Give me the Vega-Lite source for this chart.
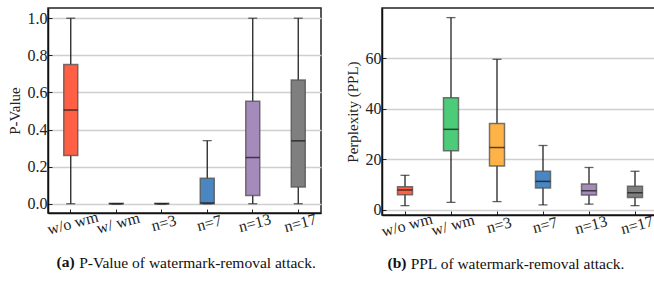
{
  "$schema": "https://vega.github.io/schema/vega-lite/v6.json",
  "padding": {"left": 6, "top": 7, "right": 0, "bottom": 0},
  "background": "white",
  "spacing": 22,
  "config": {
    "font": "Liberation Serif",
    "view": {"stroke": "#222", "strokeWidth": 1.5},
    "axis": {
      "labelFont": "Liberation Serif",
      "titleFont": "Liberation Serif",
      "labelFontSize": 16,
      "titleFontSize": 15,
      "titleFontWeight": "normal",
      "labelColor": "#222",
      "titleColor": "#222",
      "domainColor": "#111",
      "domainWidth": 1.5,
      "tickColor": "#222",
      "tickSize": -4,
      "tickWidth": 1,
      "labelPadding": 5
    },
    "title": {"font": "Liberation Serif", "fontSize": 15.5, "fontWeight": "bold", "color": "#111", "orient": "bottom", "baseline": "top", "offset": -16}
  },
  "hconcat": [
    {
      "width": 273,
      "height": 205,
      "title": {"text": "(a)", "dx": -119},
      "data": {"values": [
        {"cat": "w/o wm", "lo": 0.0, "q1": 0.26, "med": 0.505, "q3": 0.75, "hi": 1.0},
        {"cat": "w/ wm", "lo": 0.0, "q1": 0.0, "med": 0.0, "q3": 0.002, "hi": 0.0},
        {"cat": "n=3", "lo": 0.0, "q1": 0.0, "med": 0.0, "q3": 0.002, "hi": 0.0},
        {"cat": "n=7", "lo": 0.0, "q1": 0.0, "med": 0.004, "q3": 0.137, "hi": 0.34},
        {"cat": "n=13", "lo": 0.0, "q1": 0.045, "med": 0.249, "q3": 0.553, "hi": 1.0},
        {"cat": "n=17", "lo": 0.0, "q1": 0.09, "med": 0.339, "q3": 0.667, "hi": 1.0}
      ]},
      "encoding": {
        "x": {"field": "cat", "type": "nominal", "sort": null,
          "scale": {"paddingInner": 0, "paddingOuter": 0},
          "axis": {"title": "P-Value of watermark-removal attack.", "titleFontSize": 15.5, "titleColor": "#111", "titlePadding": 18, "titleX": 149, "labelAngle": -15, "labelAlign": "center", "labelBaseline": "top", "labelPadding": 6}}
      },
      "layer": [
        {"mark": {"type": "rule", "color": "#222", "strokeWidth": 1.3},
         "encoding": {"y": {"field": "lo", "type": "quantitative",
            "scale": {"domain": [-0.05, 1.055], "nice": false, "zero": false},
            "axis": {"title": "P-Value", "values": [0, 0.2, 0.4, 0.6, 0.8, 1.0], "format": ".1f", "grid": true, "gridColor": "#cfcfcf", "gridWidth": 1.5, "titlePadding": 5}},
          "y2": {"field": "hi"}}},
        {"mark": {"type": "tick", "color": "#222", "size": 9, "thickness": 1.3},
         "encoding": {"y": {"field": "lo", "type": "quantitative"}}},
        {"mark": {"type": "tick", "color": "#222", "size": 9, "thickness": 1.3},
         "encoding": {"y": {"field": "hi", "type": "quantitative"}}},
        {"mark": {"type": "bar", "size": 14, "stroke": "#555", "strokeWidth": 1.5, "strokeOpacity": 0.8},
         "encoding": {"y": {"field": "q1", "type": "quantitative"}, "y2": {"field": "q3"},
           "color": {"field": "cat", "type": "nominal", "legend": null,
             "scale": {"domain": ["w/o wm", "w/ wm", "n=3", "n=7", "n=13", "n=17"],
               "range": ["#ff5f45", "#4ccc78", "#ffb347", "#4a86c2", "#a58abc", "#7f7f7f"]}}}},
        {"mark": {"type": "tick", "color": "#111", "size": 14, "thickness": 1.5},
         "encoding": {"y": {"field": "med", "type": "quantitative"}}}
      ]
    },
    {
      "width": 276,
      "height": 207,
      "title": {"text": "(b)", "dx": -123},
      "data": {"values": [
        {"cat": "w/o wm", "lo": 1.6, "q1": 5.9, "med": 7.8, "q3": 9.1, "hi": 13.6},
        {"cat": "w/ wm", "lo": 2.9, "q1": 23.3, "med": 31.8, "q3": 44.3, "hi": 76.0},
        {"cat": "n=3", "lo": 3.2, "q1": 17.3, "med": 24.6, "q3": 34.1, "hi": 59.5},
        {"cat": "n=7", "lo": 1.9, "q1": 8.6, "med": 11.2, "q3": 15.2, "hi": 25.4},
        {"cat": "n=13", "lo": 2.2, "q1": 5.8, "med": 7.5, "q3": 10.2, "hi": 16.7},
        {"cat": "n=17", "lo": 1.6, "q1": 4.8, "med": 6.7, "q3": 9.3, "hi": 15.2}
      ]},
      "encoding": {
        "x": {"field": "cat", "type": "nominal", "sort": null,
          "scale": {"paddingInner": 0, "paddingOuter": 0},
          "axis": {"title": "PPL of watermark-removal attack.", "titleFontSize": 15.5, "titleColor": "#111", "titlePadding": 17, "titleX": 135, "labelAngle": -15, "labelAlign": "center", "labelBaseline": "top", "labelPadding": 6}}
      },
      "layer": [
        {"mark": {"type": "rule", "color": "#222", "strokeWidth": 1.3},
         "encoding": {"y": {"field": "lo", "type": "quantitative",
            "scale": {"domain": [-2.1, 79.8], "nice": false, "zero": false},
            "axis": {"title": "Perplexity (PPL)", "values": [0, 20, 40, 60], "grid": true, "gridColor": "#cfcfcf", "gridWidth": 1.5, "titlePadding": 5}},
          "y2": {"field": "hi"}}},
        {"mark": {"type": "tick", "color": "#222", "size": 9, "thickness": 1.3},
         "encoding": {"y": {"field": "lo", "type": "quantitative"}}},
        {"mark": {"type": "tick", "color": "#222", "size": 9, "thickness": 1.3},
         "encoding": {"y": {"field": "hi", "type": "quantitative"}}},
        {"mark": {"type": "bar", "size": 15, "stroke": "#555", "strokeWidth": 1.5, "strokeOpacity": 0.8},
         "encoding": {"y": {"field": "q1", "type": "quantitative"}, "y2": {"field": "q3"},
           "color": {"field": "cat", "type": "nominal", "legend": null,
             "scale": {"domain": ["w/o wm", "w/ wm", "n=3", "n=7", "n=13", "n=17"],
               "range": ["#ff5f45", "#4ccc78", "#ffb347", "#4a86c2", "#a58abc", "#7f7f7f"]}}}},
        {"mark": {"type": "tick", "color": "#111", "size": 15, "thickness": 1.5},
         "encoding": {"y": {"field": "med", "type": "quantitative"}}}
      ]
    }
  ],
  "resolve": {"scale": {"color": "independent"}}
}
